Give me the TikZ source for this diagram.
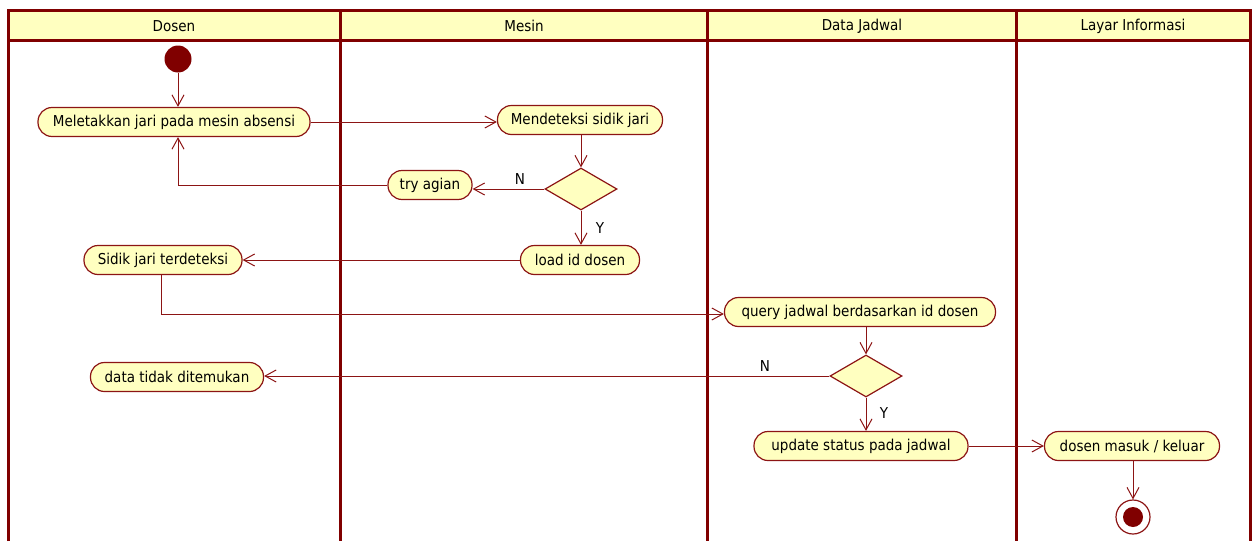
\documentclass[tikz,border=0pt]{standalone}
\usepackage{fontspec}
\setmainfont{DejaVu Sans Condensed}
\usetikzlibrary{arrows.meta,shapes.geometric}
\definecolor{frame}{RGB}{128,0,0}
\definecolor{edge}{RGB}{140,20,20}
\definecolor{fillY}{RGB}{255,255,192}
\tikzset{
  act/.style={draw=edge, fill=fillY, line width=1.2pt, rounded corners=14pt, minimum height=29pt, inner xsep=8pt, font=\fontsize{15}{17}\selectfont},
  dec/.style={draw=edge, fill=fillY, line width=1.2pt, diamond, minimum width=72pt, minimum height=42pt, inner sep=0pt, aspect=1.7},
  flow/.style={draw=edge, line width=1pt, -{Straight Barb[length=11pt,width=12pt,line width=1pt]}},
  lbl/.style={font=\fontsize{15}{17}\selectfont},
  lane/.style={draw=frame, line width=3pt},
  hdr/.style={font=\fontsize{15}{17}\selectfont}
}
\begin{document}
\begin{tikzpicture}[x=1pt,y=-1pt]
\useasboundingbox (0,0) rectangle (1256,541);
% swimlanes
\fill[fillY] (8,10) rectangle (1250,40);
\draw[lane] (8,541) -- (8,10) -- (1250,10) -- (1250,541);
\draw[lane] (8,40) -- (1250,40);
\draw[lane] (340,10) -- (340,541);
\draw[lane] (707,10) -- (707,541);
\draw[lane] (1016,10) -- (1016,541);
\node[hdr] (h1) at (174,26) {Dosen};
\node[hdr] (h2) at (524,26) {Mesin};
\node[hdr] (h3) at (862,26) {Data Jadwal};
\node[hdr] (h4) at (1133,26) {Layar Informasi};
% nodes
\node[circle, fill=frame, minimum size=27pt, inner sep=0pt] (start) at (178,59) {};
\node[act, minimum width=272pt] (a1) at (174,122) {Meletakkan jari pada mesin absensi};
\node[act, minimum width=165pt] (a2) at (580,120) {Mendeteksi sidik jari};
\node[dec] (d1) at (581,189) {};
\node[act, minimum width=84pt] (a3) at (430,185) {try agian};
\node[act, minimum width=119pt] (a4) at (580,260) {load id dosen};
\node[act, minimum width=158pt] (a5) at (163,260) {Sidik jari terdeteksi};
\node[act, minimum width=271pt] (a6) at (860,312) {query jadwal berdasarkan id dosen};
\node[dec] (d2) at (866,376) {};
\node[act, minimum width=173pt] (a7) at (177,377) {data tidak ditemukan};
\node[act, minimum width=214pt] (a8) at (861,446) {update status pada jadwal};
\node[act, minimum width=175pt] (a9) at (1132,446) {dosen masuk / keluar};
\node[circle, draw=edge, fill=white, line width=1.2pt, minimum size=34pt, inner sep=0pt] (end) at (1133,517) {};
\node[circle, fill=frame, minimum size=20pt, inner sep=0pt] (endin) at (end.center) {};
% edges
\draw[flow] (start) -- (a1.north -| start);
\draw[flow] (a1.east) -- (a2.west |- a1.east);
\draw[flow] (a2.south -| d1) -- (d1.north);
\draw[flow] (d1.west) -- (a3.east |- d1.west);
\node[lbl] (n1) at (520,179) {N};
\draw[flow] (a3.west) -| (a1.south -| start);
\draw[flow] (d1.south) -- (a4.north -| d1);
\node[lbl] (y1) at (600,228) {Y};
\draw[flow] (a4.west) -- (a5.east);
\coordinate (c1) at (161,314);
\draw[flow] (a5.south -| c1) -- (c1) -- (a6.west |- c1);
\draw[flow] (a6.south -| d2) -- (d2.north);
\draw[flow] (d2.west) -- (a7.east |- d2.west);
\node[lbl] (n2) at (765,366) {N};
\draw[flow] (d2.south) -- (a8.north -| d2);
\node[lbl] (y2) at (884,413) {Y};
\draw[flow] (a8.east) -- (a9.west);
\draw[flow] (a9.south -| end) -- (end.north);
\end{tikzpicture}
\end{document}
